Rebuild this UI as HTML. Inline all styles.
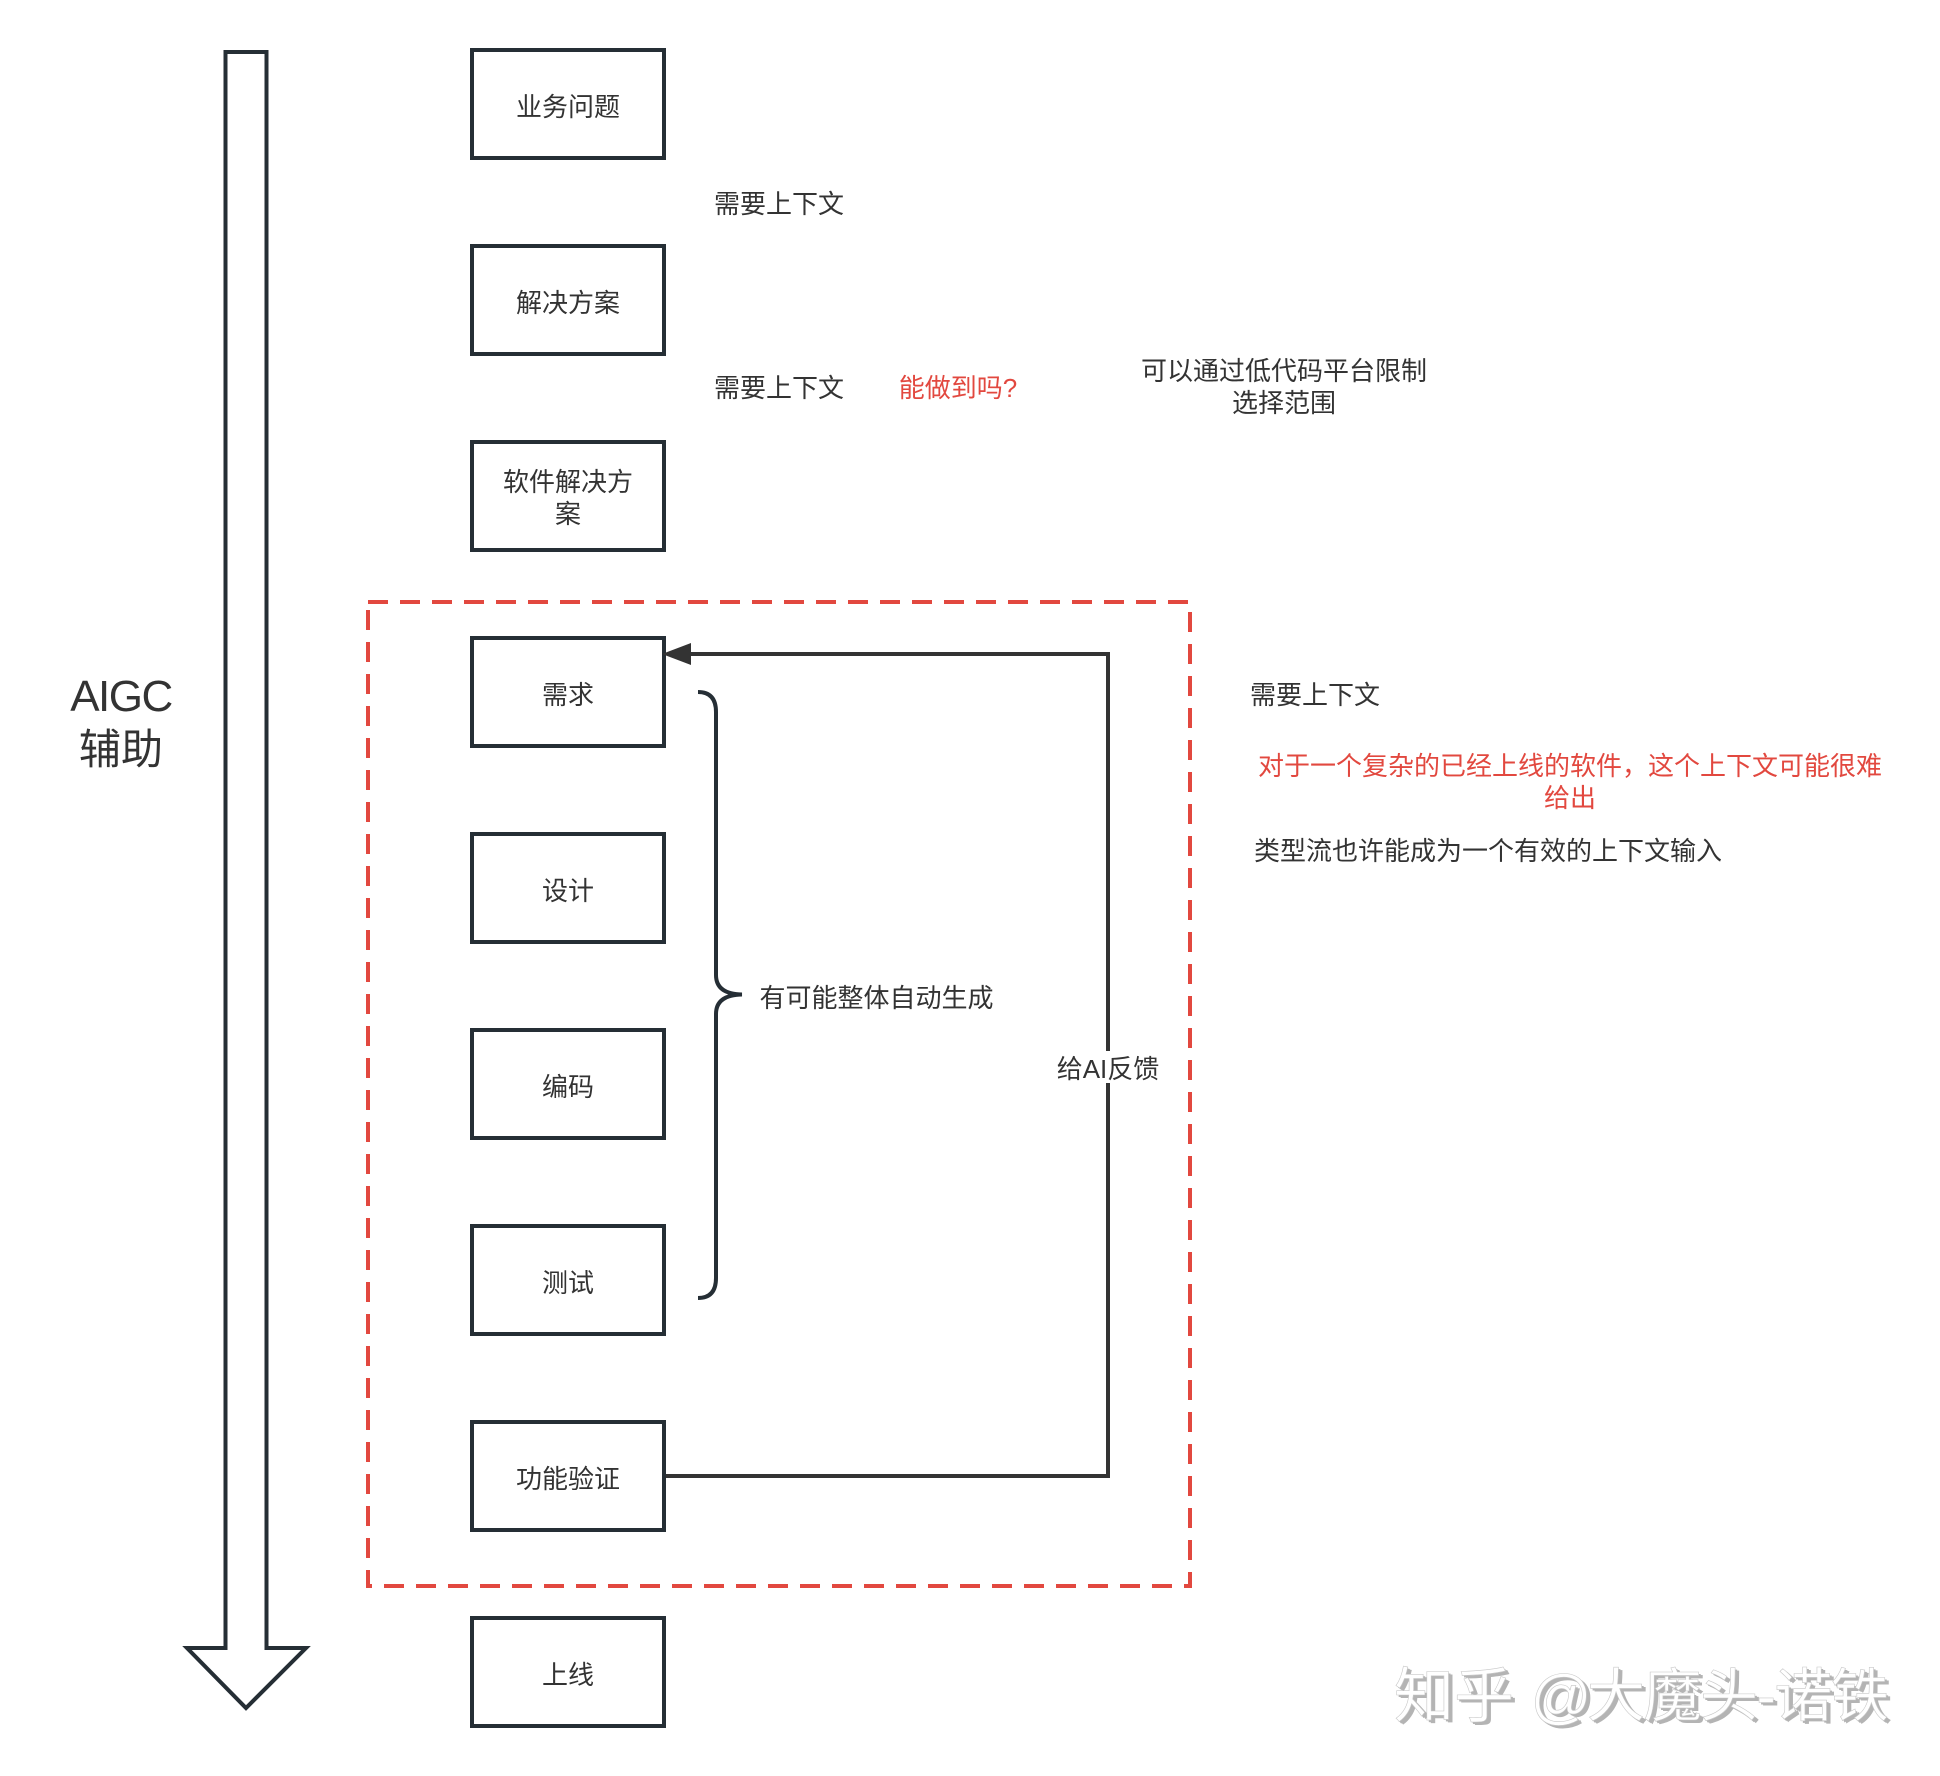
<!DOCTYPE html>
<html lang="zh"><head><meta charset="utf-8"><title>AIGC 辅助</title>
<style>
html,body{margin:0;padding:0;background:#fff}
#c{position:relative;width:1940px;height:1776px;overflow:hidden;background:#fff;font-family:"Liberation Sans","Noto Sans CJK SC",sans-serif;color:#333;font-size:26px;line-height:32px}
svg{position:absolute;left:0;top:0}
.t{position:absolute;white-space:nowrap;text-align:center;transform:translateX(-50%)}
.r{color:#e2483f}
.wm{position:absolute;white-space:nowrap;line-height:70px;color:#fff;-webkit-text-stroke:.6px #c8c8c8;text-shadow:2px 2px 0 #b4b4b4,4px 3px 0 #b4b4b4}
</style></head><body><div id="c">
<svg width="1940" height="1776" viewBox="0 0 1940 1776" fill="none">
<rect x="368" y="602" width="822" height="984" stroke="#e2483f" stroke-width="4" stroke-dasharray="20 12"/>
<path d="M225.500 52H266.500V1648H306L246 1708L187 1648H225.500Z" stroke="#252e35" stroke-width="4" stroke-miterlimit="8"/>
<g stroke="#252e35" stroke-width="4">
<rect x="472" y="50" width="192" height="108"/>
<rect x="472" y="246" width="192" height="108"/>
<rect x="472" y="442" width="192" height="108"/>
<rect x="472" y="638" width="192" height="108"/>
<rect x="472" y="834" width="192" height="108"/>
<rect x="472" y="1030" width="192" height="108"/>
<rect x="472" y="1226" width="192" height="108"/>
<rect x="472" y="1422" width="192" height="108"/>
<rect x="472" y="1618" width="192" height="108"/>
<path d="M698 692Q716 692 716 712V975Q716 994 742 994.500Q716 995 716 1014V1278Q716 1298 698 1298"/>
</g>
<path d="M666 1476H1108V654H688" stroke="#333" stroke-width="4"/>
<path d="M662 654L691 643V665Z" fill="#333"/>
<rect x="1056" y="1051" width="104" height="32" fill="#fff"/>
</svg>
<div class="t" style="left:568px;top:91px">业务问题</div>
<div class="t" style="left:568px;top:287px">解决方案</div>
<div class="t" style="left:568px;top:466px">软件解决方<br>案</div>
<div class="t" style="left:568px;top:679px">需求</div>
<div class="t" style="left:568px;top:875px">设计</div>
<div class="t" style="left:568px;top:1071px">编码</div>
<div class="t" style="left:568px;top:1267px">测试</div>
<div class="t" style="left:568px;top:1463px">功能验证</div>
<div class="t" style="left:568px;top:1659px">上线</div>
<div class="t" style="left:779px;top:188px">需要上下文</div>
<div class="t" style="left:779px;top:372px">需要上下文</div>
<div class="t r" style="left:958px;top:372px">能做到吗?</div>
<div class="t" style="left:1284px;top:355px">可以通过低代码平台限制<br>选择范围</div>
<div class="t" style="left:1315px;top:679px">需要上下文</div>
<div class="t r" style="left:1570px;top:750px">对于一个复杂的已经上线的软件，这个上下文可能很难<br>给出</div>
<div class="t" style="left:1488px;top:835px">类型流也许能成为一个有效的上下文输入</div>
<div class="t" style="left:876.500px;top:982px">有可能整体自动生成</div>
<div class="t" style="left:1108px;top:1053px">给AI反馈</div>
<div class="t" style="left:121px;top:671px;font-size:44px;line-height:52px;letter-spacing:-1.500px">AIGC</div>
<div class="t" style="left:121px;top:724px;font-size:42px;line-height:52px">辅助</div>
<div class="wm" style="left:1394px;top:1662px;font-size:60px">知乎 @</div>
<div class="wm" style="left:1587px;top:1662px;font-size:58px;letter-spacing:-1.500px">大魔头-诺铁</div>
</div></body></html>
